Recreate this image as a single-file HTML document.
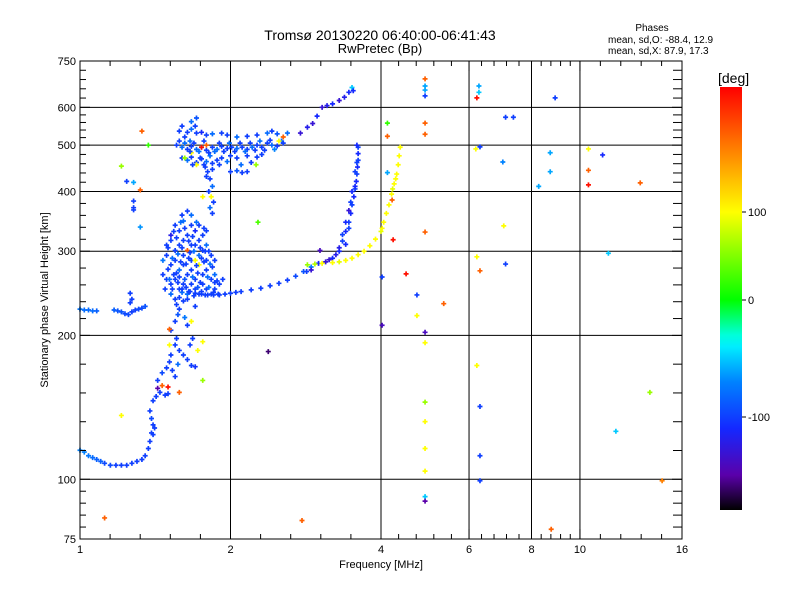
<!DOCTYPE html>
<html><head><meta charset="utf-8"><style>
body{margin:0;background:#fff}
svg{display:block}
text{font-family:"Liberation Sans",sans-serif;fill:#000}
</style></head><body>
<svg id="chart" width="800" height="600" viewBox="0 0 800 600" xmlns="http://www.w3.org/2000/svg">
<rect width="800" height="600" fill="#fff"/>
<text x="380" y="40" text-anchor="middle" font-size="14">Tromsø 20130220 06:40:00-06:41:43</text>
<text x="380" y="53" text-anchor="middle" font-size="13">RwPretec (Bp)</text>
<text x="652" y="31" text-anchor="middle" font-size="10">Phases</text>
<text x="608" y="43" font-size="10">mean, sd,O: -88.4, 12.9</text>
<text x="608" y="54" font-size="10">mean, sd,X:  87.9, 17.3</text>
<g id="grid"></g>
<g id="points"></g>
<g id="axes"></g>
<text x="381" y="568" text-anchor="middle" font-size="11">Frequency [MHz]</text>
<text transform="translate(48,300) rotate(-90)" text-anchor="middle" font-size="11">Stationary phase Virtual Height [km]</text>
<defs><linearGradient id="cbg" x1="0" y1="0" x2="0" y2="1"></linearGradient></defs>
<rect x="720" y="87" width="22" height="423" fill="url(#cbg)"/>
<text x="718" y="83" font-size="14">[deg]</text>
<g id="cbticks"></g>
</svg>
<script>
const xTicks=[1,2,4,6,8,10,16];
const xTickLabels=["1","2","4","6","8","10","16"];
const yTicks=[75,100,200,300,400,500,600,750];
const yTickLabels=["75","100","200","300","400","500","600","750"];
const yGrid=[100,200,300,400,500,600];
const xGrid=[2,4,6,8,10];
const cbValues=[100,0,-100];
const cbLabels=["100","0","-100"];

const lowF=[1.0,1.02,1.04,1.06,1.08,1.1,1.12,1.15,1.18,1.21,1.24,1.27,1.3,1.33,1.35,1.37,1.38,1.39,1.4];
const lowH=[115,114,112,111,110,109,108,107,107,107,107,108,109,110,112,116,120,125,130];
const lowP=[-70,-70,-75,-80,-85,-85,-95,-95,-100,-100,-100,-100,-100,-100,-100,-100,-100,-100,-100];

const bF=[1.0,1.02,1.04,1.06,1.08,1.17,1.19,1.21,1.23,1.25,1.27,1.29,1.31,1.33,1.35,1.26,1.27];
const bH=[227,226,226,225,225,226,225,224,222,221,224,226,227,228,230,245,238];
const bP=[-75,-80,-80,-80,-85,-85,-90,-90,-95,-95,-100,-100,-95,-95,-90,-100,-100];

const isoF=[1.28,1.24,1.32,1.28,1.28,1.28,1.32,1.33,1.37,1.21,1.12,1.21,1.26,2.78,2.38,2.27];
const isoH=[370,420,337,382,366,418,403,535,500,452,83,136,234,82,185,345];
const isoP=[-100,-100,-65,-100,-100,-60,150,150,20,60,150,100,-100,150,-160,30];

const colF=[1.40,1.41,1.39,1.38,1.40,1.42,1.445,1.48,1.50,1.43,1.46,1.49,1.51,1.53,1.55,1.57,1.52,1.55,1.56,1.58,1.61,1.64,1.67,1.70,1.52,1.55,1.57,1.56,1.58,1.62,1.64,1.68,1.66,1.51,1.72,1.67,1.51,1.50,1.46,1.43,1.76,1.76,1.58,1.70];
const colH=[124,128,134,139,146,149,152,150,151,161,167,171,176,169,164,174,182,191,197,186,182,178,173,172,205,214,221,232,227,218,210,197,191,191,186,214,206,156,157,155,194,161,152,230];
const colP=[-100,-100,-95,-100,-100,-100,-100,-100,-100,-100,-95,-100,-100,-100,-100,-80,-100,-100,-100,-100,-100,-100,-100,-105,-100,-100,-90,-100,-100,-75,-100,-100,-100,100,100,100,150,175,150,-150,100,60,150,-100];

const cloudF=[1.55,1.58,1.61,1.64,1.67,1.70,1.73,1.76,1.79,1.52,1.55,1.58,1.61,1.64,1.67,1.70,1.73,1.76,1.79,1.83,1.49,1.52,1.55,1.58,1.61,1.64,1.67,1.70,1.73,1.76,1.79,1.83,1.86,1.465,1.49,1.52,1.55,1.58,1.61,1.64,1.67,1.70,1.73,1.76,1.79,1.83,1.86,1.90,1.52,1.55,1.58,1.61,1.64,1.60,1.64,1.67,1.52,1.49,1.465,1.93,1.70,1.86,1.61,1.67,1.73,1.79,1.80,1.82,1.84,1.81,1.83,1.85,1.82,1.84,1.79,1.78];
const cloudH=[340,331,347,324,340,331,316,324,309,316,301,309,294,301,287,309,294,301,287,294,294,281,287,274,281,268,274,262,281,268,274,262,268,268,262,256,262,250,256,244,256,250,244,256,250,244,250,256,244,238,240,236,238,357,364,357,324,309,287,262,287,287,316,309,340,331,440,425,410,400,390,380,370,360,430,450];
const cloudP=[-100,-100,-80,-100,-100,-110,-100,-100,-80,-100,-100,-100,-100,150,-100,-100,-80,-100,-100,-100,-100,-100,-100,-80,-100,-100,-100,-100,100,-100,-100,-100,-80,-100,-100,-100,-100,-100,-100,-80,-100,-100,-100,-100,-100,-100,-100,-100,-80,-100,-100,-100,-100,-100,-100,-80,-120,-100,-75,-100,100,-100,-100,-100,-100,-100,-100,-100,-80,-100,100,-100,-80,-100,-100,-100];

const cloud2F=[1.50,1.53,1.56,1.59,1.62,1.65,1.68,1.71,1.74,1.77,1.80,1.84,1.88,1.53,1.57,1.60,1.63,1.66,1.69,1.72,1.75,1.78,1.81,1.85,1.89,1.56,1.59,1.62,1.65,1.68,1.71,1.74,1.77,1.81,1.50,1.54,1.57,1.60,1.63,1.66,1.69,1.72,1.75,1.78,1.82,1.86,1.48,1.51,1.54,1.58];
const cloud2H=[275,290,270,285,262,290,265,280,258,285,265,278,260,250,258,246,252,247,242,252,247,243,252,246,244,320,345,335,315,322,345,305,335,300,305,330,296,305,282,298,300,270,290,300,282,258,250,262,268,265];
const cloud2P=[-100,-80,-100,-100,-90,-100,-80,-100,-100,-100,-80,-100,-100,-100,-100,-80,-100,-100,-100,-90,-100,-100,-80,-100,-100,-100,-80,-100,-100,-100,-80,-100,-100,-100,-100,-100,-80,-100,-100,-100,-80,-100,-100,-100,-80,-100,-100,-80,-100,-100];

const upF=[1.64,1.67,1.71,1.75,1.79,1.84,1.92,1.97,2.06,2.16,2.26,2.37,2.42,2.48,1.60,1.67,1.71,1.56,1.60,1.64,1.67,1.71,1.75,1.79,1.84,1.88,1.92,1.97,2.01,2.06,2.11,2.16,2.21,2.26,2.31,2.37,2.42,2.48,2.53,1.60,1.64,1.67,1.71,1.75,1.79,1.84,1.88,1.92,1.97,2.06,2.16,2.26,2.31,2.0,2.06,2.11,2.16,1.84,1.75,1.79,1.67,1.62,1.71,2.5,2.55,2.25,1.76];
const upH=[532,540,530,532,525,528,530,525,520,522,525,530,535,528,548,560,570,500,495,490,497,490,495,488,495,490,497,492,495,492,495,490,495,500,495,505,500,498,510,470,465,472,460,468,462,458,465,470,462,470,475,472,478,440,442,438,440,445,495,500,482,470,455,510,520,455,390];
const upP=[-100,-80,-100,-110,-100,-80,-100,-100,-80,-100,-100,-80,-100,-90,-100,-80,-90,-100,-80,-100,-100,-80,-100,-100,-100,-80,-100,-100,-100,-80,-100,-100,-80,-100,-100,-100,-80,-100,-75,-100,-80,-100,-100,-100,-80,-100,-100,-100,-80,-100,-100,-100,-100,-100,-90,-100,-100,-100,175,150,100,60,100,100,150,60,100];

const up2F=[1.58,1.62,1.66,1.69,1.73,1.77,1.81,1.86,1.90,1.94,1.99,2.04,2.09,2.14,2.19,2.24,2.29,2.34,2.40,2.45,1.62,1.66,1.70,1.58,1.74,1.82,1.90,2.0,2.1,2.2,1.68,1.77,2.6,2.55];
const up2H=[510,505,485,505,485,510,482,485,505,485,505,485,505,485,505,488,510,488,512,490,520,510,548,535,470,475,455,475,455,460,455,455,530,505];
const up2P=[-100,-80,-100,-100,-80,-100,-100,-80,-100,-100,-80,-100,-100,-80,-100,-100,-80,-100,-100,-70,-100,-80,-100,-100,-100,-80,-100,-100,-80,-100,-100,-100,-80,-100];

const cF=[1.6,1.65,1.7,1.75,1.8,1.85,1.9,1.95,2.0,2.05,2.1,2.2,2.3,2.4,2.5,2.6,2.7,2.8,2.9,3.0,3.1,3.2,3.3,3.35,3.4,3.45,3.48,3.5,3.53,3.55,3.57,3.58,3.59,3.6,3.6,3.6,3.58,3.3,3.35,3.4,3.45,3.48,3.5,3.55,3.4,3.25,3.15,3.45,3.55,3.58,3.02,2.9,2.84];
const cH=[250,247,245,244,243,243,243,244,245,246,247,249,251,254,257,261,266,272,278,283,285,290,300,315,330,345,360,375,390,405,420,435,450,465,480,495,500,305,325,345,365,380,400,440,310,295,288,335,410,460,301,274,272];
const cP=[-100,-100,-100,-100,-100,-100,-100,-100,-100,-100,-100,-100,-100,-100,-100,-100,-95,-90,-70,-110,-130,-110,-110,-100,-110,-100,-110,-100,-110,-100,-110,-100,-110,-100,-110,-100,-110,-120,-100,-110,-130,-100,-110,-100,-110,-120,-130,-100,-110,-100,-140,-130,-100];

const dF=[2.85,2.95,3.05,3.2,3.3,3.4,3.5,3.6,3.7,3.8,3.9,4.0,4.02,4.05,4.1,4.15,4.2,4.22,4.25,4.28,4.3,4.33,4.35,4.37];
const dH=[281,282,283,284,285,287,290,295,300,308,318,330,335,345,360,375,395,405,415,425,435,455,475,495];
const dP=[60,70,100,100,90,100,100,100,100,100,100,90,100,100,100,100,100,90,100,100,100,100,100,100];

const eF=[2.76,2.85,2.92,2.98,3.05,3.12,3.2,3.3,3.38,3.45,3.5,3.52];
const eH=[530,545,555,575,600,605,610,620,630,645,660,650];
const eP=[-130,-120,-130,-110,-130,-120,-110,-130,-120,-110,-50,-110];

const sF=[4.90,4.90,4.90,4.90,6.28,6.28,6.22,8.92,4.12,4.90,4.12,4.90,7.10,7.36,6.31,6.19,7.01,4.12,8.72,8.72,8.27,10.4,11.1,10.4,10.4,13.2,4.21,4.90,4.23,7.04,11.4,6.22,7.10,6.31,4.49,4.02,4.72,5.34,4.72,4.02,4.90,4.90,6.22,13.8,4.90,6.31,4.90,11.8,4.90,6.31,4.90,6.31,14.6,4.90,4.90,8.76];
const sH=[688,665,652,634,665,645,628,628,556,556,522,527,572,572,496,491,461,438,482,440,410,491,477,443,413,417,384,329,317,339,297,292,282,273,269,265,243,233,220,210,203,193,173,152,145,142,132,126,116,112,104,99.3,99.3,92,90,78.6];
const sP=[150,-60,-60,-100,-60,-50,175,-100,20,150,150,150,-100,-100,-100,100,-70,-60,-60,-60,-60,100,-110,150,175,150,150,150,175,100,-50,100,-100,150,175,-100,-100,150,100,-140,-140,100,100,60,60,-100,100,-50,100,-100,100,-100,140,-50,-150,150];

const groups=[[lowF,lowH,lowP],[bF,bH,bP],[isoF,isoH,isoP],[colF,colH,colP],[cloudF,cloudH,cloudP],[cloud2F,cloud2H,cloud2P],[upF,upH,upP],[up2F,up2H,up2P],[cF,cH,cP],[dF,dH,dP],[eF,eH,eP],[sF,sH,sP]];

const X0=80,X1=682,Y0=539,Y1=61;
const xs=f=>X0+(X1-X0)*Math.log2(f)/4;
const ys=h=>Y0-(Y0-Y1)*Math.log10(h/75);
const NS="http://www.w3.org/2000/svg";
const mk=(t,a,p)=>{const e=document.createElementNS(NS,t);for(const k in a)e.setAttribute(k,a[k]);p.appendChild(e);return e;};

const stops=[[180,[255,0,0]],[140,[255,128,0]],[100,[255,255,0]],[50,[128,255,0]],[0,[0,255,0]],[-35,[0,255,255]],[-70,[0,130,255]],[-110,[20,40,255]],[-150,[90,0,170]],[-180,[0,0,0]]];
function col(v){v=Math.max(-180,Math.min(180,v));for(let i=0;i<stops.length-1;i++){const a=stops[i],b=stops[i+1];if(v<=a[0]&&v>=b[0]){const t=(a[0]-v)/(a[0]-b[0]);const c=a[1].map((x,j)=>Math.round(x+(b[1][j]-x)*t));return `rgb(${c})`;}}return "#000";}
const cbY=[[180,87],[100,212],[0,300],[-100,417],[-180,510]];
function cby(v){for(let i=0;i<cbY.length-1;i++){const a=cbY[i],b=cbY[i+1];if(v<=a[0]&&v>=b[0])return a[1]+(b[1]-a[1])*(a[0]-v)/(a[0]-b[0]);}return 510;}

const grid=document.getElementById('grid');
xGrid.forEach(f=>{const l=mk('line',{x1:xs(f),x2:xs(f),y1:Y1,y2:Y0,stroke:'#000','stroke-width':1},grid);

});
yGrid.forEach(h=>{const l=mk('line',{x1:X0,x2:X1,y1:ys(h),y2:ys(h),stroke:'#000','stroke-width':1},grid);

});

const pts=document.getElementById('points');
groups.forEach(g=>{const [F,H,P]=g;F.forEach((f,i)=>{const x=xs(f),y=ys(H[i]);
const p=mk('path',{d:`M${x-2.5} ${y}H${x+2.5}M${x} ${y-2.5}V${y+2.5}`,stroke:col(P[i]),'stroke-width':1.7},pts);

});});

const ax=document.getElementById('axes');
const fr=mk('rect',{x:X0,y:Y1,width:X1-X0,height:Y0-Y1,fill:'none',stroke:'#000','stroke-width':1},ax);


xTicks.forEach((f,i)=>{const x=xs(f);
mk('line',{x1:x,x2:x,y1:Y0,y2:Y0-10,stroke:'#000'},ax);mk('line',{x1:x,x2:x,y1:Y1,y2:Y1+10,stroke:'#000'},ax);
const t=mk('text',{x:x,y:553,'text-anchor':'middle','font-size':11},ax);t.textContent=xTickLabels[i];


if(i<xTicks.length-1){const a=x,b=xs(xTicks[i+1]);for(let k=1;k<=4;k++){const xm=a+(b-a)*k/5;mk('line',{x1:xm,x2:xm,y1:Y0,y2:Y0-5,stroke:'#000'},ax);mk('line',{x1:xm,x2:xm,y1:Y1,y2:Y1+5,stroke:'#000'},ax);}}});
yTicks.forEach((h,i)=>{const y=ys(h);
mk('line',{x1:X0,x2:X0+10,y1:y,y2:y,stroke:'#000'},ax);mk('line',{x1:X1,x2:X1-10,y1:y,y2:y,stroke:'#000'},ax);
const t=mk('text',{x:76,y:y+4,'text-anchor':'end','font-size':11},ax);t.textContent=yTickLabels[i];


if(i<yTicks.length-1){const a=y,b=ys(yTicks[i+1]);for(let k=1;k<=4;k++){const ym=a+(b-a)*k/5;mk('line',{x1:X0,x2:X0+6,y1:ym,y2:ym,stroke:'#000'},ax);mk('line',{x1:X1,x2:X1-9,y1:ym,y2:ym,stroke:'#000'},ax);}}});

const g=document.getElementById('cbg');
for(let v=180;v>=-180;v-=10){mk('stop',{offset:((cby(v)-87)/423).toFixed(4),'stop-color':col(v)},g);}
const cbt=document.getElementById('cbticks');
cbValues.forEach((v,i)=>{const y=cby(v);mk('line',{x1:742,x2:746,y1:y,y2:y,stroke:'#000'},cbt);
const t=mk('text',{x:748,y:y+4,'font-size':11},cbt);t.textContent=cbLabels[i];

});
</script>
</body></html>
